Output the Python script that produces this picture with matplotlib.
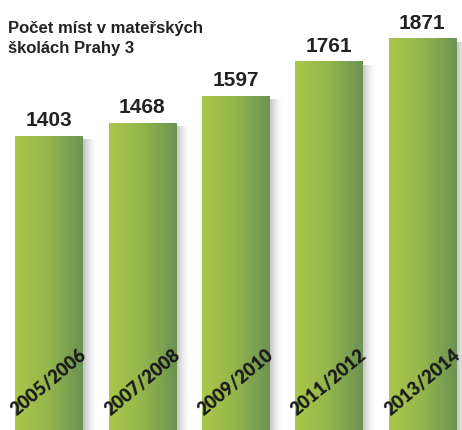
import numpy as np
import matplotlib
matplotlib.use("Agg")
import matplotlib.pyplot as plt
from matplotlib.colors import LinearSegmentedColormap

years = ["2005/2006", "2007/2008", "2009/2010", "2011/2012", "2013/2014"]
places = [1403, 1468, 1597, 1761, 1871]
title = "Počet míst v mateřských\nškolách Prahy 3"

fig = plt.figure(figsize=(4.62, 4.30), dpi=100)
ax = fig.add_axes([0, 0, 1, 1])
ax.set_xlim(-0.525, 4.427)
ax.set_ylim(0, 2057)
ax.axis("off")

cmap = LinearSegmentedColormap.from_list("g", ["#abc74a", "#93b54c", "#6c9352"])
grad = np.linspace(0, 1, 100).reshape(1, -1)
shadow = np.zeros((1, 50, 4))
shadow[0, :, 3] = np.linspace(0.4, 0, 50) ** 1.5
w = 0.72

for i, v in enumerate(places):
    # soft shadow on the right side
    ax.imshow(shadow, aspect="auto", extent=(i + w / 2, i + w / 2 + 0.15, 0, v - 15), zorder=1)
    ax.imshow(grad, cmap=cmap, aspect="auto", extent=(i - w / 2, i + w / 2, 0, v), zorder=2)
    ax.text(i, v + 30, str(v), ha="center", va="bottom", fontsize=15, fontweight="bold",
            family="Liberation Sans", color="#222222", zorder=3)
    ax.text(i, 230, years[i], ha="center", va="center", rotation=40, fontsize=13,
            fontweight="heavy", family="Lato", color="#1a1a1a", zorder=3)

ax.text(-0.44, 1955, title, ha="left", va="top", fontsize=12, fontweight="bold",
        family="Liberation Sans", color="#222222", linespacing=1.4)

fig.savefig("out.png", dpi=100)
